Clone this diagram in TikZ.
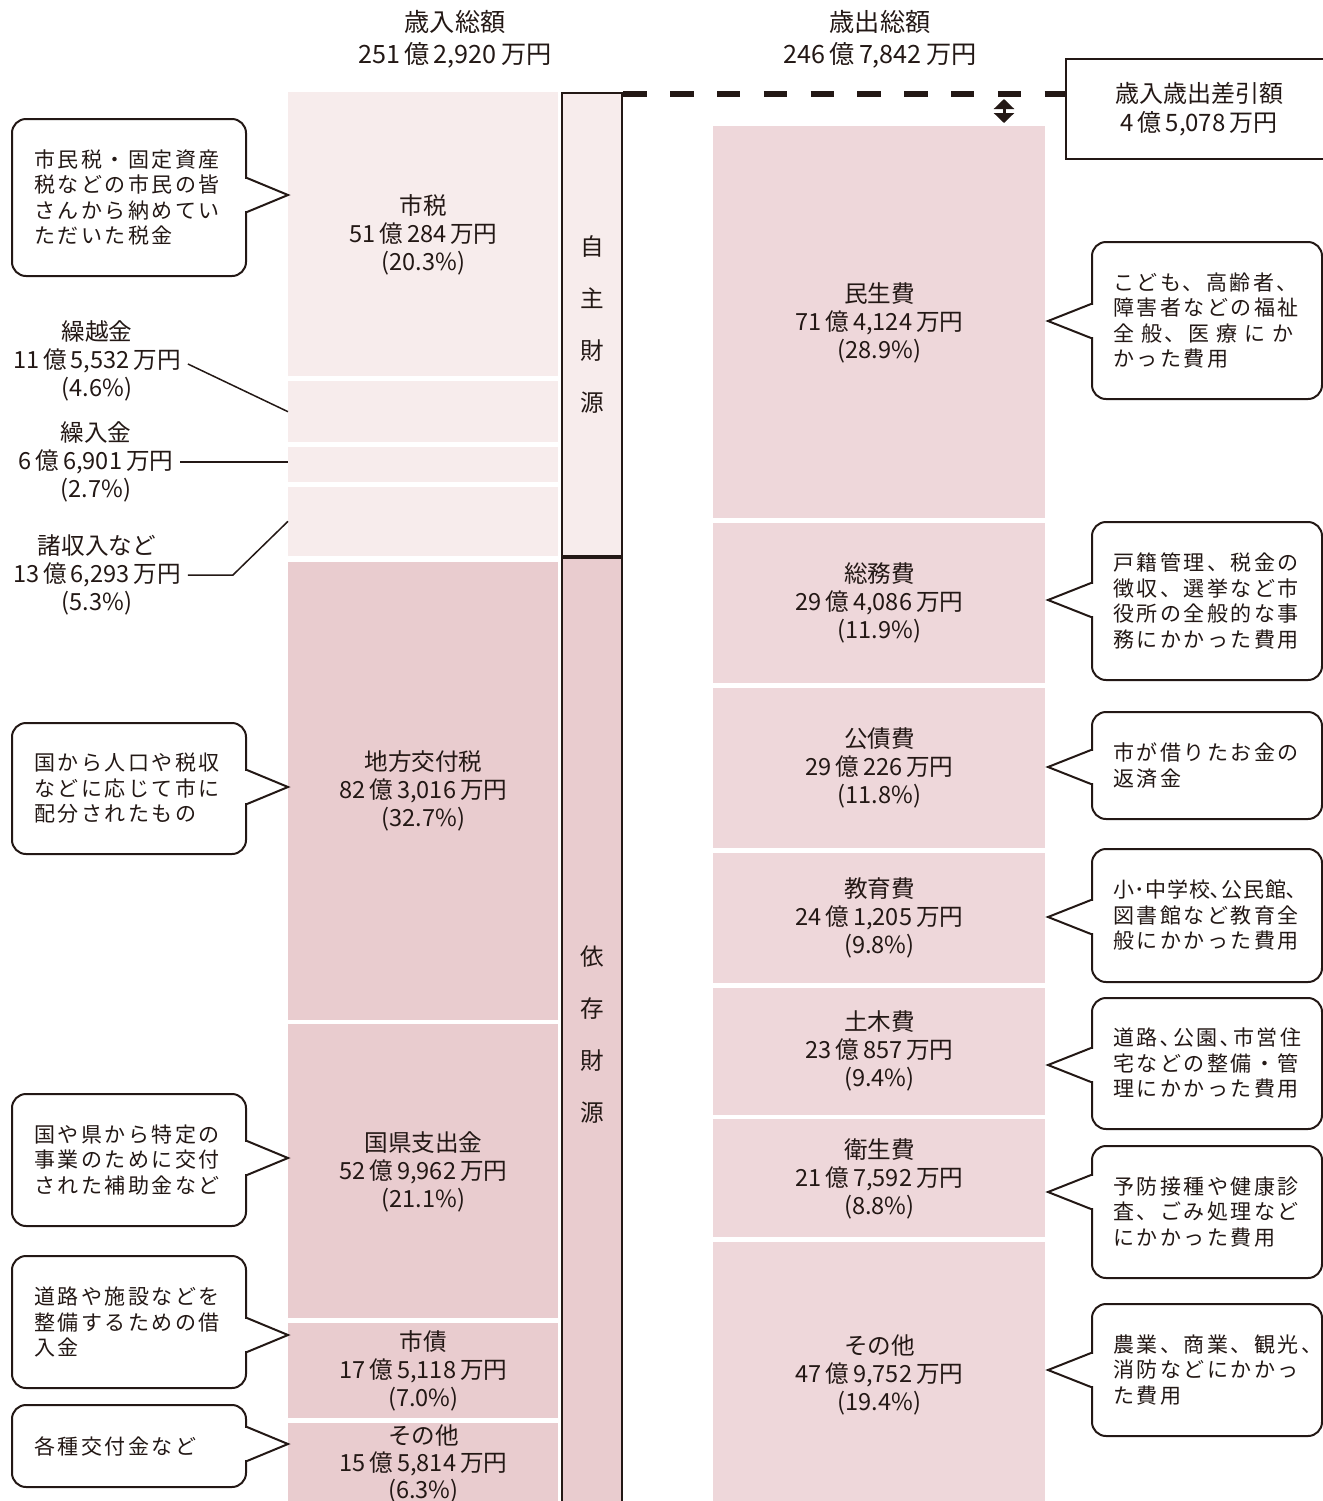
\documentclass[tikz,border=0pt]{standalone}
\usepackage{fontspec}
\setmainfont{Noto Sans CJK JP}
\newfontfamily\notefont[LetterSpace=12]{Noto Sans CJK JP}
\usepackage{xcolor}
\usetikzlibrary{arrows.meta, positioning, calc}

\definecolor{ink}{HTML}{231815}
\definecolor{paleRose}{HTML}{F7ECEC}
\definecolor{rose}{HTML}{E9CCCF}
\definecolor{roseR}{HTML}{EED7DA}
\newcommand{\oku}{\,億\,}
\newcommand{\man}{\,万円}

\begin{document}
\begin{tikzpicture}[x=0.5pt, y=-0.5pt,
			>={Triangle[width=10pt,length=5pt]},
			color=ink,
			node distance=2pt,
			colL/.style={fill=#1, draw=none, minimum width=135pt, inner sep=0pt, align=center,
				font=\fontsize{11.8}{14}\selectfont},
			colR/.style={fill=roseR, draw=none, minimum width=166pt, inner sep=0pt, align=center,
				font=\fontsize{11.8}{14}\selectfont},
			strip/.style={fill=#1, draw=ink, line width=1.2pt, minimum width=30pt, inner sep=0pt,
				anchor=north west, align=center, font=\fontsize{11.8}{26}\selectfont},
			lbl/.style={align=center, font=\fontsize{11.8}{14}\selectfont},
			ttl/.style={align=center, font=\fontsize{12.6}{16}\selectfont},
			lead/.style={draw=ink, line width=0.75pt},
			note/.style={draw=ink, fill=white, line width=1pt, rounded corners=7pt, anchor=north west,
				align=left, inner xsep=11pt, text width=95pt, font=\fontsize{10.5}{12.75}\notefont},
			noteR/.style={note, inner xsep=10.5pt, text width=94pt},
			pointer/.style={draw=ink, line width=1pt, line join=miter},
			dashline/.style={draw=ink, line width=2.6pt, dash pattern=on 11.7pt off 11.7pt},
			gap/.style={<->, line width=1.5pt}]

			\useasboundingbox (0,0) rectangle (1323,1501);

			% headings
			\node[ttl] (inTitle) at (455,39) {歳入総額\\251\oku 2,920\man};
			\node[ttl] (outTitle) at (880,39) {歳出総額\\246\oku 7,842\man};

			% revenue column
			\node[colL=paleRose, minimum height=142pt, anchor=north west] (shizei) at (288,92) {市税\\51\oku 284\man\\(20.3\%)};
			\node[colL=paleRose, minimum height=30.5pt, below=of shizei] (kurikoshi) {};
			\node[colL=paleRose, minimum height=17.5pt, below=of kurikoshi] (kuriire) {};
			\node[colL=paleRose, minimum height=34.5pt, below=of kuriire] (shoshu) {};
			\node[colL=rose, minimum height=229pt, below=2.5pt of shoshu] (kofuzei) {地方交付税\\82\oku 3,016\man\\(32.7\%)};
			\node[colL=rose, minimum height=147pt, below=of kofuzei] (shishutsu) {国県支出金\\52\oku 9,962\man\\(21.1\%)};
			\node[colL=rose, minimum height=47.5pt, below=of shishutsu] (shisai) {市債\\17\oku 5,118\man\\(7.0\%)};
			\node[colL=rose, minimum height=41pt, below=of shisai, font=\fontsize{11.8}{13.6}\selectfont] (sonotaL) {その他\\15\oku 5,814\man\\(6.3\%)};
			\fill[rose] (sonotaL.south west) rectangle (sonotaL.east |- 0,1501);

			% own / dependent sources
			\node[strip=paleRose, minimum height=231.5pt] (jishu) at (561,92) {自\\主\\財\\源};
			\node[strip=rose, minimum height=478pt] (izon) at (561,555) {依\\存\\財\\源};
			\draw[line width=2pt] (jishu.south west) -- (jishu.south east);

			% expenditure column
			\node[colR, minimum height=196pt, anchor=north west] (minsei) at (713,126) {民生費\\71\oku 4,124\man\\(28.9\%)};
			\node[colR, minimum height=80pt, below=of minsei] (soumu) {総務費\\29\oku 4,086\man\\(11.9\%)};
			\node[colR, minimum height=80pt, below=of soumu] (kousai) {公債費\\29\oku 226\man\\(11.8\%)};
			\node[colR, minimum height=65pt, below=of kousai] (kyouiku) {教育費\\24\oku 1,205\man\\(9.8\%)};
			\node[colR, minimum height=63.5pt, below=of kyouiku] (doboku) {土木費\\23\oku 857\man\\(9.4\%)};
			\node[colR, minimum height=59pt, below=of doboku] (eisei) {衛生費\\21\oku 7,592\man\\(8.8\%)};
			\node[colR, minimum height=133pt, below=of eisei] (sonotaR) {その他\\47\oku 9,752\man\\(19.4\%)};

			% balance
			\node[draw=ink, line width=1pt, anchor=north west, minimum width=133pt, minimum height=50pt,
				align=center, font=\fontsize{12}{14.5}\selectfont] (diff) at (1065,58) {歳入歳出差引額\\4\oku 5,078\man};
			\coordinate (dashEnd) at (diff.west |- 0,94);
			\draw[dashline] (jishu.north east |- dashEnd) -- (dashEnd);
			\coordinate (gapTop) at (1004,99);
			\draw[gap] (gapTop) -- ([yshift=1.5pt]gapTop |- minsei.north);

			% small revenue items
			\node[lbl] (kurikoshiLbl) at (97,361) {繰越金\\11\oku 5,532\man\\(4.6\%)};
			\node[lbl] (kuriireLbl) at (96,462) {繰入金\\6\oku 6,901\man\\(2.7\%)};
			\node[lbl] (shoshuLbl) at (97,575) {諸収入など\\13\oku 6,293\man\\(5.3\%)};
			\draw[lead] ([yshift=-1.5pt]kurikoshiLbl.east) -- (kurikoshi.west);
			\draw[lead] (kuriireLbl.east) -- (kuriireLbl.east -| kuriire.west);
			\draw[lead] (shoshuLbl.east) -- ++(45,0) -- (shoshu.west);

			% notes, revenue side
			\node[note, minimum height=78.5pt] (noteZei) at (11,118) {市民税・固定資産\\税などの市民の皆\\さんから納めてい\\ただいた税金};
			\node[note, minimum height=65.5pt] (noteKofu) at (11,722) {国から人口や税収\\などに応じて市に\\配分されたもの};
			\node[note, minimum height=66pt] (noteShishutsu) at (11,1093) {国や県から特定の\\事業のために交付\\された補助金など};
			\node[note, minimum height=66pt] (noteShisai) at (11,1255) {道路や施設などを\\整備するための借\\入金};
			\node[note, minimum height=41pt] (noteSonota) at (11,1404) {各種交付金など};
			\coordinate (tipZei) at (288,195);
			\coordinate (tipKofu) at (288,787);
			\coordinate (tipShishutsu) at (288,1158);
			\coordinate (tipShisai) at (288,1335);
			\coordinate (tipSonota) at (288,1444);
			\foreach \b/\t in {noteZei/tipZei, noteKofu/tipKofu, noteShishutsu/tipShishutsu,
				noteShisai/tipShisai, noteSonota/tipSonota} {
				\fill[white] ($(\b.east |- \t)+(-2.5,-16)$) rectangle ($(\b.east |- \t)+(1,16)$);
				\draw[pointer] ($(\b.east |- \t)+(0,-17)$) -- (\t) -- ($(\b.east |- \t)+(0,17)$);
			}

			% notes, expenditure side
			\node[noteR, minimum height=78.5pt] (noteMinsei) at (1091,241) {こども、高齢者、\\障害者などの福祉\\\makebox[93pt][s]{全 般、医 療 に か}\\かった費用};
			\node[noteR, minimum height=79pt] (noteSoumu) at (1091,521) {戸籍管理、税金の\\徴収、選挙など市\\役所の全般的な事\\務にかかった費用};
			\node[noteR, minimum height=53.5pt] (noteKousai) at (1091,711) {市が借りたお金の\\返済金};
			\node[noteR, minimum height=66.5pt] (noteKyouiku) at (1091,848) {{\addfontfeature{LetterSpace=3}小･中学校､公民館､}\\図書館など教育全\\般にかかった費用};
			\node[noteR, minimum height=65.5pt] (noteDoboku) at (1091,997) {道路､公園､市営住\\宅などの整備・管\\理にかかった費用};
			\node[noteR, minimum height=66pt] (noteEisei) at (1091,1145) {予防接種や健康診\\査、ごみ処理など\\にかかった費用};
			\node[noteR, minimum height=66pt] (noteSonotaR) at (1091,1303) {農業、商業、観光、\\消防などにかかっ\\た費用};
			\coordinate (tipMinsei) at (1048,321);
			\coordinate (tipSoumu) at (1048,600);
			\coordinate (tipKousai) at (1048,767);
			\coordinate (tipKyouiku) at (1048,917);
			\coordinate (tipDoboku) at (1048,1065);
			\coordinate (tipEisei) at (1048,1192);
			\coordinate (tipSonotaR) at (1048,1370);
			\foreach \b/\t in {noteMinsei/tipMinsei, noteSoumu/tipSoumu, noteKousai/tipKousai,
				noteKyouiku/tipKyouiku, noteDoboku/tipDoboku, noteEisei/tipEisei, noteSonotaR/tipSonotaR} {
				\fill[white] ($(\b.west |- \t)+(-1,-16)$) rectangle ($(\b.west |- \t)+(2.5,16)$);
				\draw[pointer] ($(\b.west |- \t)+(0,-17)$) -- (\t) -- ($(\b.west |- \t)+(0,17)$);
			}
		\end{tikzpicture}
\end{document}
